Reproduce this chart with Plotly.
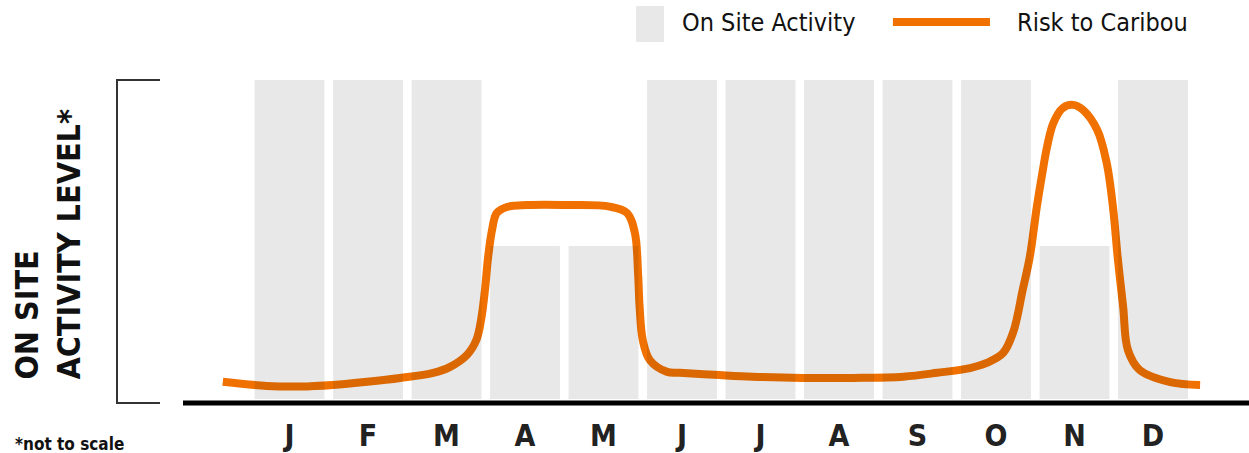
import plotly.graph_objects as go

# month slots (1 = Jan ... 12 = Dec)
months = ["J", "F", "M", "A", "M", "J", "J", "A", "S", "O", "N", "D"]
month_pos = list(range(1, 13))

# on site activity level per month (not to scale)
activity = [100, 100, 100, 48, 48, 100, 100, 100, 100, 100, 48, 100]

# risk to caribou curve (x in month units)
risk_x = [0.15, 0.71, 1.13, 1.55, 1.99, 2.41, 2.83, 3.04, 3.26, 3.38, 3.44, 3.49,
          3.53, 3.58, 3.64, 3.77, 4.03, 4.57, 5.08, 5.30, 5.40, 5.44, 5.46, 5.50,
          5.59, 5.81, 5.97, 6.48, 6.90, 7.54, 8.18, 8.82, 9.25, 9.67, 9.88, 10.09,
          10.22, 10.34, 10.43, 10.52, 10.59, 10.65, 10.73, 10.85, 10.98, 11.11, 11.29,
          11.41, 11.49, 11.55, 11.62, 11.68, 11.83, 12.22, 12.60]
risk_y = [5.4, 4.1, 3.9, 4.4, 5.4, 6.6, 8.2, 10.0, 13.8, 18.5, 24.8, 34.2,
          44.5, 53.0, 58.3, 60.2, 60.8, 60.8, 60.3, 58.3, 52.0, 39.5, 28.8, 18.5,
          12.2, 8.5, 8.2, 7.5, 7.0, 6.6, 6.6, 7.0, 8.2, 9.7, 11.3, 14.4,
          21.0, 34.2, 44.5, 60.2, 70.8, 79.0, 86.5, 91.2, 92.2, 90.6, 84.3,
          74.0, 60.2, 44.5, 28.8, 15.4, 9.1, 5.3, 4.4]

GREY = "#E8E8E8"
ORANGE = "#F07100"
FONT = "DejaVu Sans Condensed, Roboto, sans-serif"

fig = go.Figure()
fig.add_trace(go.Bar(x=month_pos, y=activity, marker=dict(color=GREY, line=dict(width=0)),
                     name="On Site Activity", showlegend=False, hoverinfo="skip"))
fig.add_trace(go.Scatter(x=risk_x, y=risk_y, mode="lines", name="Risk to Caribou",
                         line=dict(color=ORANGE, width=8, shape="spline", smoothing=1.0),
                         showlegend=False, hoverinfo="skip"))

shapes = [
    # baseline
    dict(type="line", xref="paper", yref="paper", x0=0, x1=1, y0=0.0058, y1=0.0058,
         line=dict(color="black", width=5)),
    # bracket on the left
    dict(type="path", xref="paper", yref="paper",
         path="M -0.0216 0.942 L -0.0619 0.942 L -0.0619 0.0058 L -0.0216 0.0058",
         line=dict(color="#333333", width=2)),
    # legend swatches
    dict(type="rect", xref="paper", yref="paper", x0=0.4250, x1=0.4512, y0=1.0522, y1=1.1565,
         fillcolor=GREY, line=dict(width=0)),
    dict(type="line", xref="paper", yref="paper", x0=0.666, x1=0.757, y0=1.110, y1=1.110,
         line=dict(color=ORANGE, width=8)),
]

annotations = [
    dict(text="On Site Activity", xref="paper", yref="paper", x=0.4662, y=1.110,
         xanchor="left", yanchor="middle", showarrow=False,
         font=dict(family=FONT, size=25, color="#111111")),
    dict(text="Risk to Caribou", xref="paper", yref="paper", x=0.7805, y=1.110,
         xanchor="left", yanchor="middle", showarrow=False,
         font=dict(family=FONT, size=25, color="#111111")),
    dict(text="ON SITE<br>ACTIVITY LEVEL*", xref="paper", yref="paper", x=-0.1266, y=0.465,
         xanchor="center", yanchor="middle", showarrow=False, textangle=-90, align="left",
         font=dict(family=FONT, size=32, color="#111111", weight="bold")),
    dict(text="*not to scale", xref="paper", yref="paper", x=-0.1595, y=-0.113,
         xanchor="left", yanchor="middle", showarrow=False,
         font=dict(family=FONT, size=17, color="#111111", weight="bold")),
]

fig.update_layout(
    width=1249, height=453,
    margin=dict(l=183, r=0, t=60, b=48),
    paper_bgcolor="white", plot_bgcolor="white",
    bargap=0.11,
    shapes=shapes, annotations=annotations,
    xaxis=dict(range=[-0.357, 13.223], tickvals=month_pos, ticktext=months,
               showgrid=False, zeroline=False, showline=False, ticks="",
               ticklabelstandoff=10,
               tickfont=dict(family=FONT, size=30, color="#222222", weight="bold")),
    yaxis=dict(range=[-1.88, 106.27], showgrid=False, zeroline=False, showline=False,
               showticklabels=False, ticks=""),
)

post = ("document.body.style.margin='0';"
        "document.querySelectorAll('.scatterlayer path.js-line').forEach(function(p)"
        "{p.style.mixBlendMode='multiply';});")
fig.write_html("out.html", post_script=post, config={"displayModeBar": False})
